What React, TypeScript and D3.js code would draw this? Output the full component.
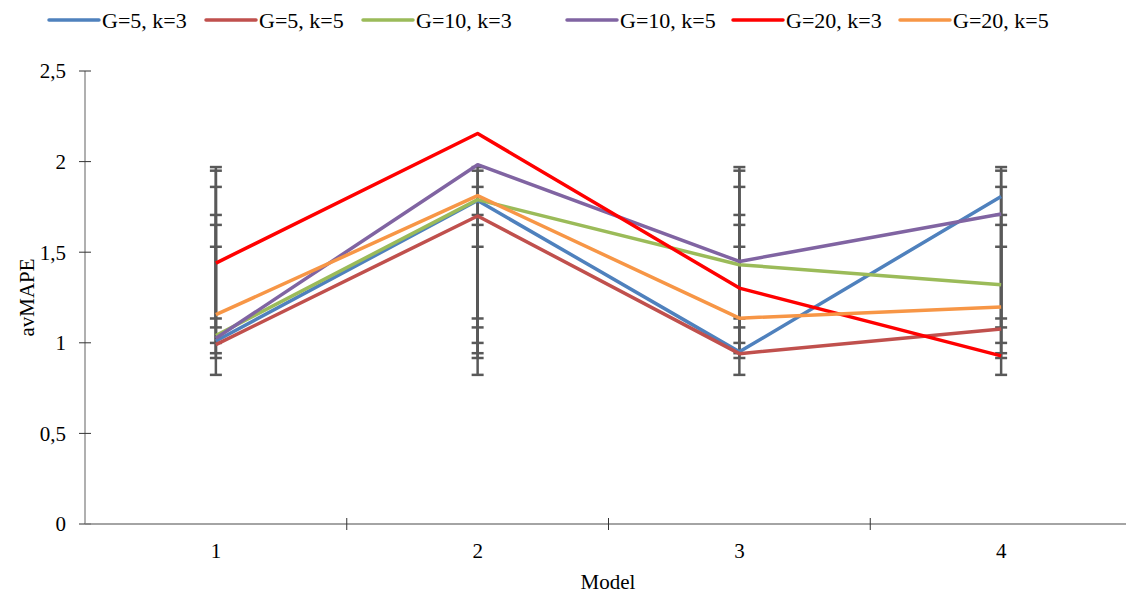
import React, { useEffect, useRef } from 'react';
import * as d3 from 'd3';

const categories = ['1', '2', '3', '4'];
const seriesNames = ['G=5, k=3', 'G=5, k=5', 'G=10, k=3', 'G=10, k=5', 'G=20, k=3', 'G=20, k=5'];
const seriesColors = ['#4F81BD', '#C0504D', '#9BBB59', '#8064A2', '#FF0000', '#F79646'];
const g5k3 = [1.01, 1.785, 0.95, 1.808];
const g5k5 = [0.99, 1.70, 0.94, 1.076];
const g10k3 = [1.04, 1.79, 1.431, 1.32];
const g10k5 = [1.025, 1.983, 1.449, 1.711];
const g20k3 = [1.44, 2.155, 1.302, 0.928];
const g20k5 = [1.155, 1.812, 1.136, 1.197];
const yTicks = [0, 0.5, 1, 1.5, 2, 2.5];
const legendX = [49, 206, 363, 567, 733, 900];

const width = 1126;
const height = 594;

const App = () => {
    const svgRef = useRef<SVGSVGElement>(null);

    useEffect(() => {
        document.body.style.margin = '0';
        const svg = d3.select(svgRef.current);
        svg.selectAll('*').remove();

        const allSeries = [g5k3, g5k5, g10k3, g10k5, g20k3, g20k5];
        const font = '"Liberation Serif", "Times New Roman", serif';

        const x = d3.scaleBand().domain(categories).range([85, 1132]);
        const y = d3.scaleLinear().domain([0, 2.5]).range([524, 71]);
        const cx = (c: string) => (x(c) as number) + x.bandwidth() / 2;

        // y axis
        svg.append('line')
            .attr('x1', 85).attr('x2', 85)
            .attr('y1', y(2.5)).attr('y2', y(0))
            .attr('stroke', '#868686').attr('stroke-width', 1.3);
        svg.selectAll('.ytick')
            .data(yTicks)
            .enter()
            .append('line')
            .attr('x1', 79).attr('x2', 91)
            .attr('y1', d => y(d)).attr('y2', d => y(d))
            .attr('stroke', '#333').attr('stroke-width', 1);
        svg.selectAll('.ylabel')
            .data(yTicks)
            .enter()
            .append('text')
            .attr('x', 66)
            .attr('y', d => y(d))
            .attr('dy', '0.35em')
            .attr('text-anchor', 'end')
            .style('font-family', font)
            .style('font-size', '21px')
            .text(d => String(d).replace('.', ','));

        // x axis
        svg.append('line')
            .attr('x1', 85).attr('x2', 1132)
            .attr('y1', y(0)).attr('y2', y(0))
            .attr('stroke', '#868686').attr('stroke-width', 1.3);
        svg.selectAll('.xtick')
            .data(categories.slice(1))
            .enter()
            .append('line')
            .attr('x1', d => x(d) as number).attr('x2', d => x(d) as number)
            .attr('y1', y(0) - 6).attr('y2', y(0) + 6)
            .attr('stroke', '#333').attr('stroke-width', 1);
        svg.selectAll('.xlabel')
            .data(categories)
            .enter()
            .append('text')
            .attr('x', d => cx(d))
            .attr('y', 558)
            .attr('text-anchor', 'middle')
            .style('font-family', font)
            .style('font-size', '21px')
            .text(d => d);

        // axis titles
        svg.append('text')
            .attr('transform', `translate(34,${(y(0) + y(2.5)) / 2}) rotate(-90)`)
            .attr('text-anchor', 'middle')
            .style('font-family', font)
            .style('font-size', '21px')
            .text('avMAPE');
        svg.append('text')
            .attr('x', 608)
            .attr('y', 589)
            .attr('text-anchor', 'middle')
            .style('font-family', font)
            .style('font-size', '21px')
            .text('Model');

        // error bars: standard deviation around the series mean (Excel style)
        allSeries.forEach(values => {
            const m = d3.mean(values) as number;
            const sd = d3.deviation(values) as number;
            categories.forEach(c => {
                const eg = svg.append('g').attr('stroke', '#595959').attr('stroke-width', 2.5);
                eg.append('line')
                    .attr('x1', cx(c)).attr('x2', cx(c))
                    .attr('y1', y(m - sd)).attr('y2', y(m + sd));
                [m - sd, m + sd].forEach(v => {
                    eg.append('line')
                        .attr('x1', cx(c) - 6).attr('x2', cx(c) + 6)
                        .attr('y1', y(v)).attr('y2', y(v));
                });
            });
        });

        // lines
        const line = d3.line<number>()
            .x((d, i) => cx(categories[i]))
            .y(d => y(d));
        allSeries.forEach((values, i) => {
            svg.append('path')
                .datum(values)
                .attr('d', line)
                .attr('fill', 'none')
                .attr('stroke', seriesColors[i])
                .attr('stroke-width', 3.5)
                .attr('stroke-linejoin', 'round');
        });

        // legend
        seriesNames.forEach((name, i) => {
            const lg = svg.append('g').attr('transform', `translate(${legendX[i]},20)`);
            lg.append('line')
                .attr('x1', 0).attr('x2', 50)
                .attr('y1', 0).attr('y2', 0)
                .attr('stroke', seriesColors[i])
                .attr('stroke-width', 3.5)
                .attr('stroke-linecap', 'round');
            lg.append('text')
                .attr('x', 53)
                .attr('y', 0)
                .attr('dy', '0.35em')
                .style('font-family', font)
                .style('font-size', '22px')
                .text(name);
        });
    }, []);

    return (
        <svg ref={svgRef} width={width} height={height} style={{ display: 'block', background: '#fff' }}></svg>
    );
};

export default App;
